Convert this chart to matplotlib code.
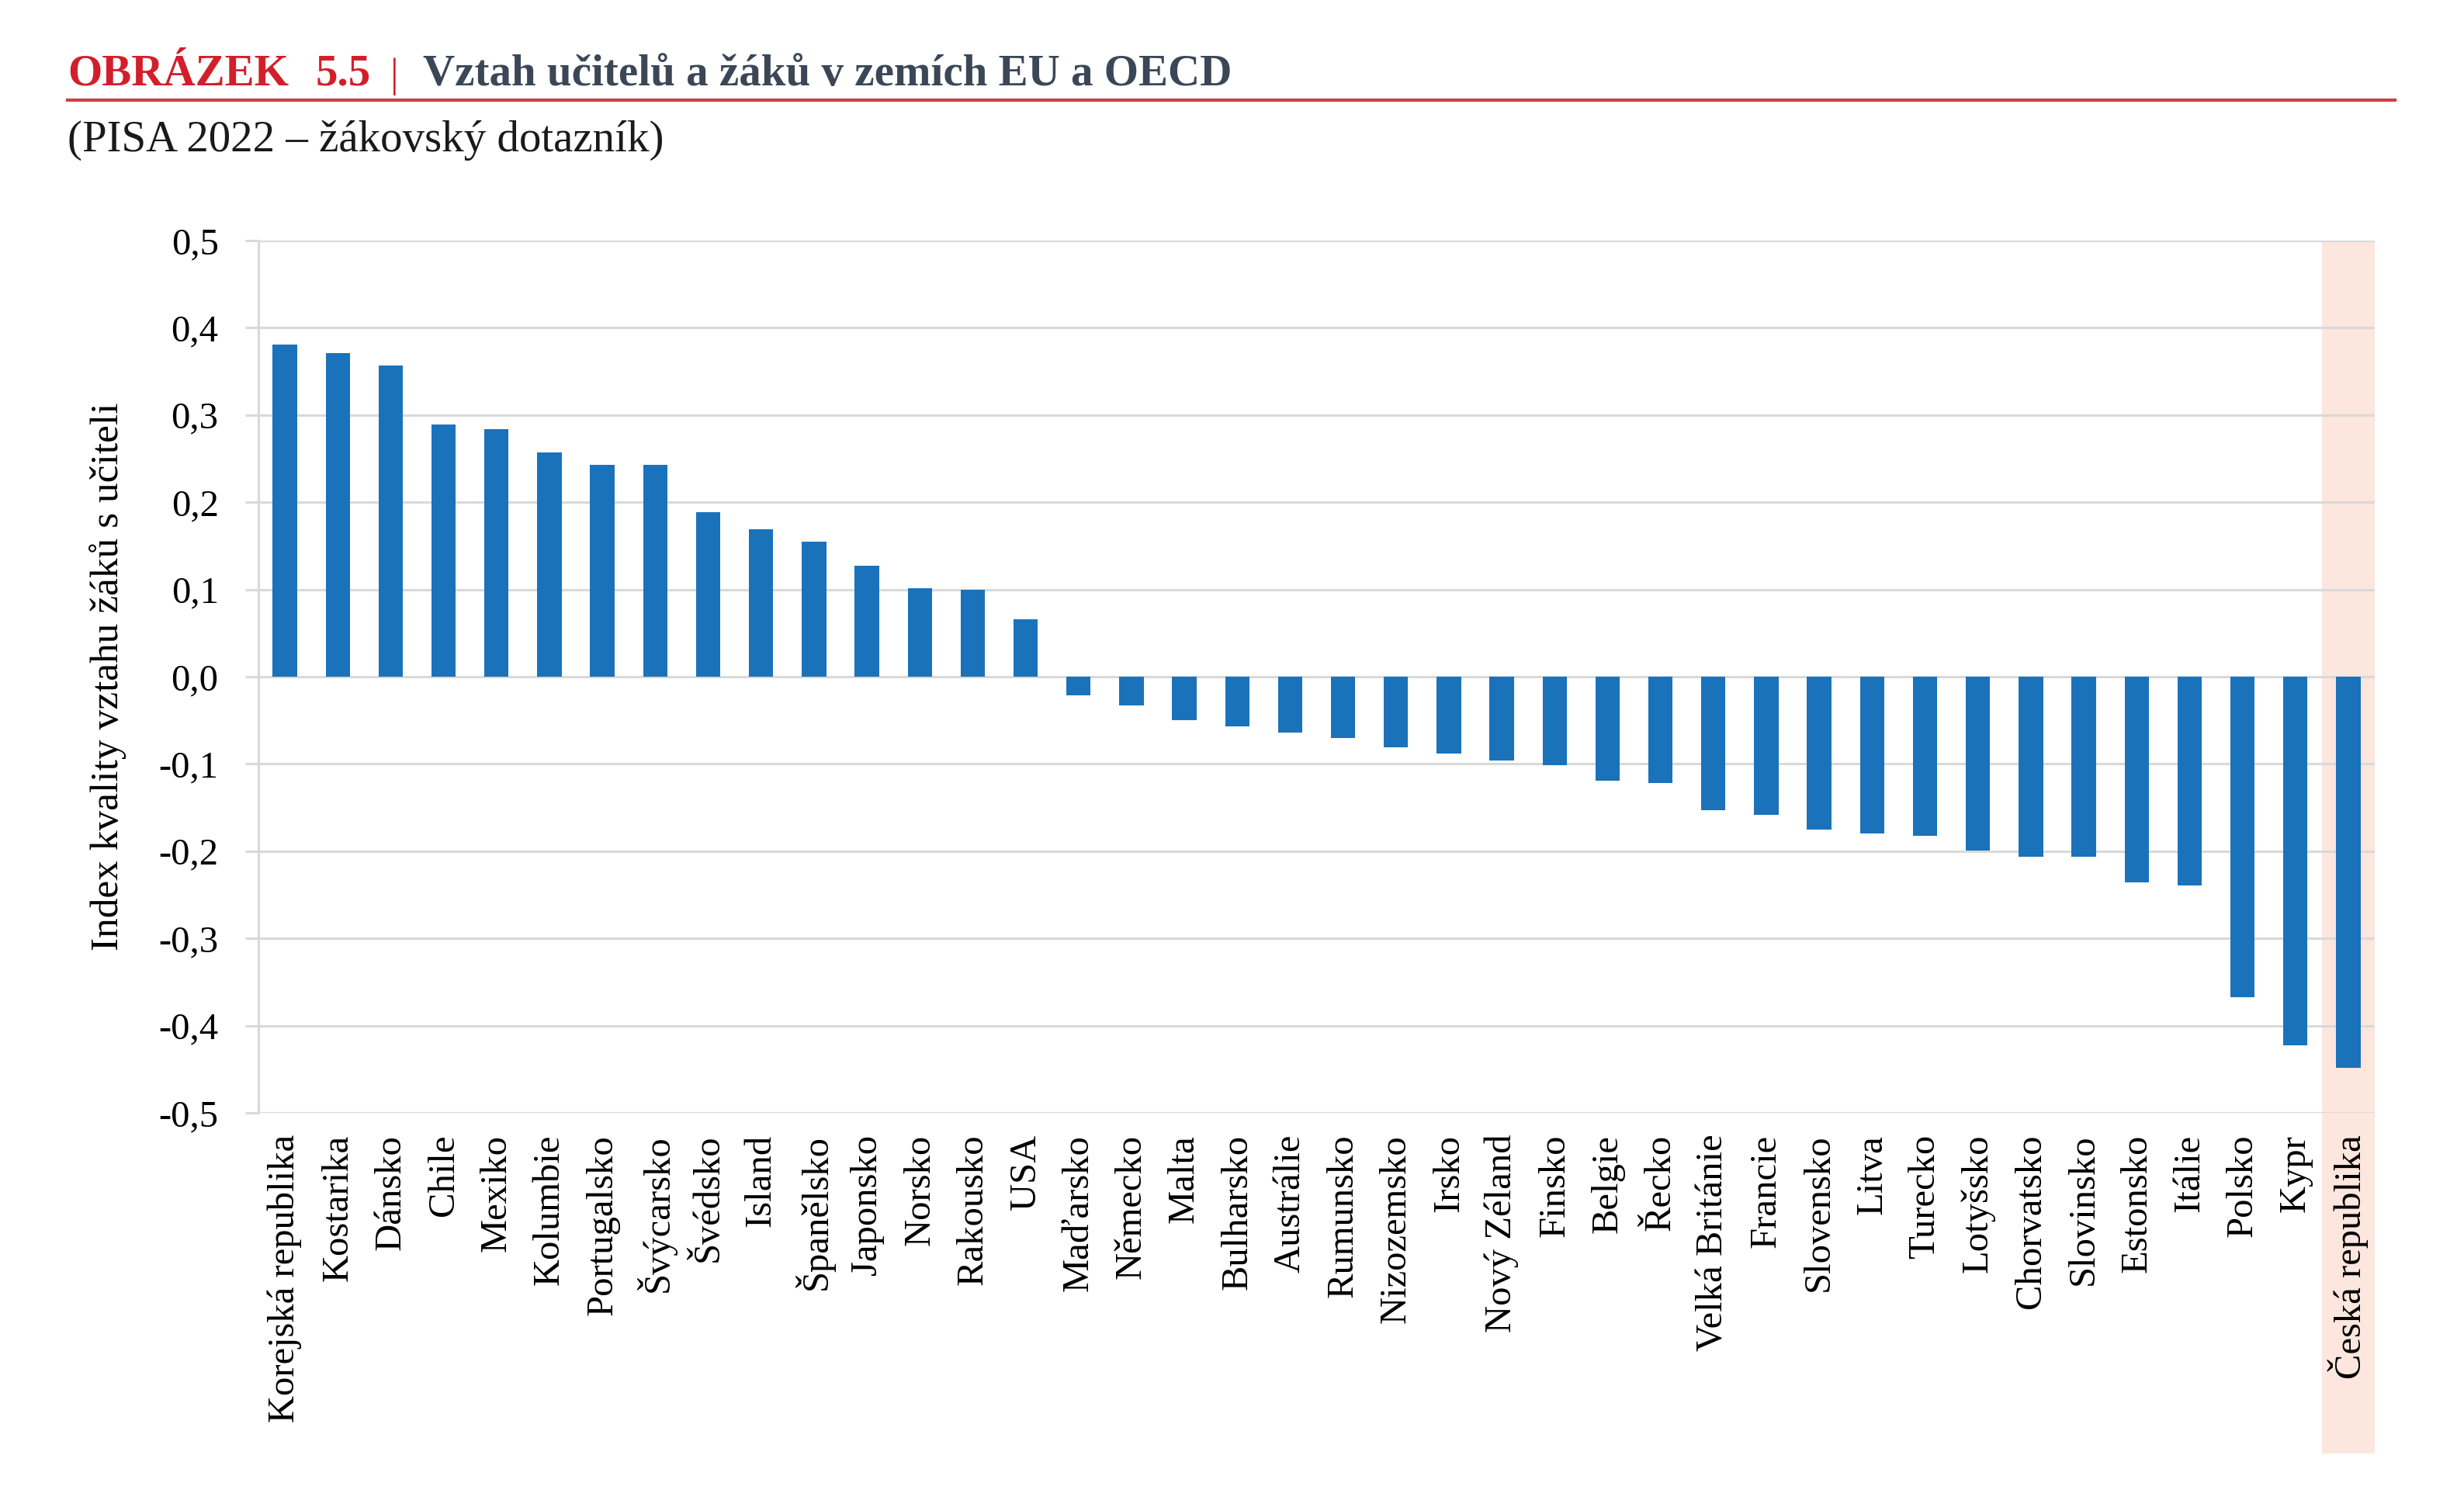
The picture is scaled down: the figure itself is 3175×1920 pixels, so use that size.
import matplotlib
matplotlib.use('Agg')
import matplotlib.pyplot as plt
from matplotlib.patches import Rectangle

# Data
countries = ['Korejská republika', 'Kostarika', 'Dánsko', 'Chile', 'Mexiko', 'Kolumbie',
             'Portugalsko', 'Švýcarsko', 'Švédsko', 'Island', 'Španělsko', 'Japonsko',
             'Norsko', 'Rakousko', 'USA', 'Maďarsko', 'Německo', 'Malta', 'Bulharsko',
             'Austrálie', 'Rumunsko', 'Nizozemsko', 'Irsko', 'Nový Zéland', 'Finsko',
             'Belgie', 'Řecko', 'Velká Británie', 'Francie', 'Slovensko', 'Litva',
             'Turecko', 'Lotyšsko', 'Chorvatsko', 'Slovinsko', 'Estonsko', 'Itálie',
             'Polsko', 'Kypr', 'Česká republika']
values = [0.381, 0.371, 0.357, 0.289, 0.284, 0.257,
          0.243, 0.243, 0.189, 0.169, 0.155, 0.127,
          0.101, 0.100, 0.066, -0.021, -0.033, -0.050, -0.057,
          -0.064, -0.070, -0.081, -0.088, -0.096, -0.101,
          -0.119, -0.122, -0.153, -0.158, -0.175, -0.180,
          -0.182, -0.199, -0.206, -0.206, -0.236, -0.239,
          -0.367, -0.423, -0.448]
highlight = 'Česká republika'

y_ticks = [-0.5, -0.4, -0.3, -0.2, -0.1, 0.0, 0.1, 0.2, 0.3, 0.4, 0.5]
y_tick_labels = ['-0,5', '-0,4', '-0,3', '-0,2', '-0,1', '0,0', '0,1', '0,2', '0,3', '0,4', '0,5']

title_num = 'OBRÁZEK'
title_id = '5.5'
title_text = 'Vztah učitelů a žáků v zemích EU a OECD'
subtitle = '(PISA 2022 – žákovský dotazník)'
ylabel = 'Index kvality vztahu žáků s učiteli'

plt.rcParams['font.family'] = ['Liberation Serif', 'DejaVu Serif']

W, H = 3175, 1920
fig = plt.figure(figsize=(W / 100, H / 100), dpi=100)
ax = fig.add_axes([333 / W, 1 - 1434 / H, (3060 - 333) / W, (1434 - 310) / H])

x = list(range(len(countries)))
ax.bar(x, values, width=0.46, color='#1a72bb', zorder=3)

# pink band behind the Czech bar, reaching down under its label
hi = countries.index(highlight)
ymin = -(1873 - 1434) / (1434 - 310)
ax.add_patch(Rectangle((hi - 0.5, ymin), 1.0, 1 - ymin, transform=ax.get_xaxis_transform(),
                       facecolor='#fce6de', edgecolor='none', clip_on=False, zorder=0))

ax.set_xlim(-0.5, len(countries) - 0.5)
ax.set_ylim(-0.5, 0.5)
ax.set_yticks(y_ticks)
ax.set_yticklabels(y_tick_labels, fontsize=35)
ax.set_xticks(x)
ax.set_xticklabels(countries, rotation=90, fontsize=35)

ax.set_axisbelow(True)
ax.yaxis.grid(True, color='#d9d9d9', linewidth=2.2)
for s in ['top', 'right', 'bottom']:
    ax.spines[s].set_visible(False)
ax.spines['left'].set_color('#d9d9d9')
ax.spines['left'].set_linewidth(2.2)
ax.tick_params(axis='y', length=12, width=2.2, color='#d9d9d9', pad=25)
ax.tick_params(axis='x', length=0, pad=20)

ax.set_ylabel(ylabel, fontsize=37)
ax.yaxis.set_label_coords(-0.0625, 0.5)

# header
fig.text(87 / W, 1 - 110 / H, title_num, color='#d21f2b', fontsize=41, fontweight='bold', va='baseline')
fig.text(407 / W, 1 - 110 / H, title_id, color='#d21f2b', fontsize=41, fontweight='bold', va='baseline')
fig.text(503 / W, 1 - 112 / H, '|', color='#d21f2b', fontsize=38, va='baseline')
fig.text(545 / W, 1 - 110 / H, title_text, color='#3b4757', fontsize=41, fontweight='bold', va='baseline')
fig.add_artist(plt.Line2D([87 / W, 3086 / W], [1 - 129 / H, 1 - 129 / H], color='#cf3f42', linewidth=3))
fig.text(87 / W, 1 - 195 / H, subtitle, color='#1a1a1a', fontsize=41, va='baseline')

fig.savefig('out.png', dpi=100, facecolor='white')
